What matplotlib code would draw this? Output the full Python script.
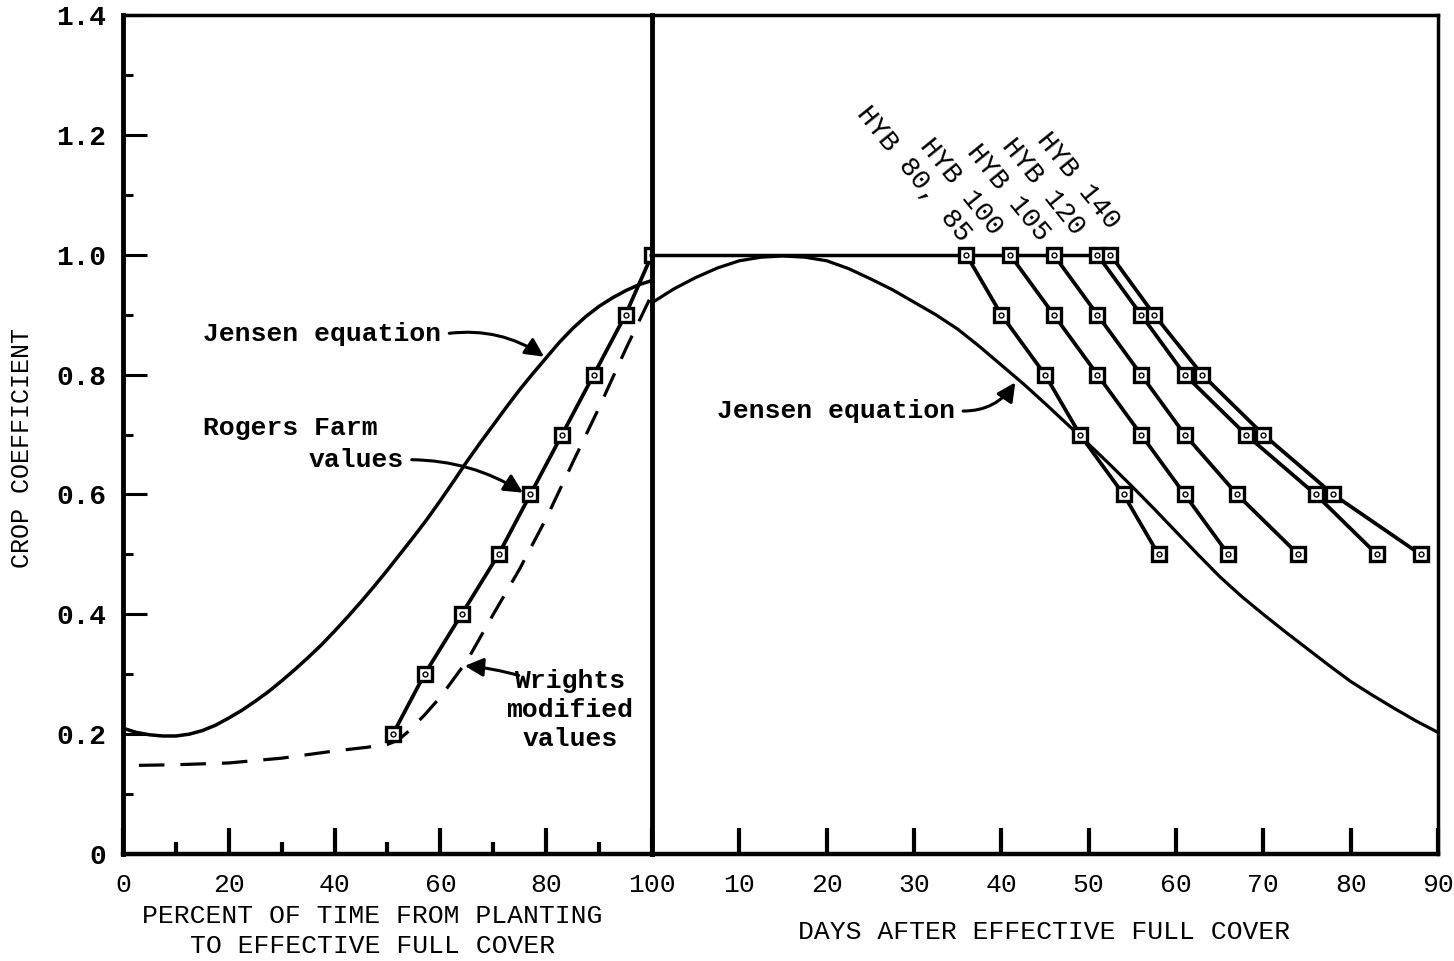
import matplotlib
matplotlib.use("Agg")
import matplotlib.pyplot as plt
import numpy as np

plt.rcParams["font.family"] = ["Liberation Mono", "DejaVu Sans Mono"]
plt.rcParams["font.weight"] = "bold"

# left panel: percent of time from planting to effective full cover
jensen_l_x = [0, 2.5, 5, 7.5, 10, 12.5, 15, 17.5, 20, 22.5, 25, 27.5, 30, 32.5, 35, 37.5,
              40, 42.5, 45, 47.5, 50, 52.5, 55, 57.5, 60, 62.5, 65, 67.5, 70, 72.5, 75,
              77.5, 80, 82.5, 85, 87.5, 90, 92.5, 95, 97.5, 100]
jensen_l_y = [0.21, 0.203, 0.199, 0.197, 0.197, 0.2, 0.206, 0.215, 0.227, 0.24, 0.255,
              0.271, 0.289, 0.308, 0.328, 0.349, 0.372, 0.396, 0.421, 0.447, 0.474, 0.502,
              0.53, 0.559, 0.59, 0.622, 0.655, 0.686, 0.716, 0.746, 0.775, 0.802, 0.828,
              0.854, 0.877, 0.897, 0.914, 0.928, 0.94, 0.95, 0.957]

rogers_x = [51, 57, 64, 71, 77, 83, 89, 95, 100]
rogers_y = [0.2, 0.3, 0.4, 0.5, 0.6, 0.7, 0.8, 0.9, 1.0]

wrights_x = [3, 10, 20, 30, 40, 46, 50, 52, 54, 57, 60, 65, 70, 75, 80, 85, 90, 95, 99.5]
wrights_y = [0.148, 0.149, 0.152, 0.16, 0.172, 0.178, 0.183, 0.19, 0.205, 0.232, 0.262,
             0.322, 0.40, 0.476, 0.56, 0.653, 0.745, 0.842, 0.925]

# right panel: days after effective full cover
jensen_r_x = [0, 2.5, 5, 7.5, 10, 12.5, 15, 17.5, 20, 22.5, 25, 27.5, 30, 32.5, 35, 37.5,
              40, 42.5, 45, 47.5, 50, 52.5, 55, 57.5, 60, 62.5, 65, 67.5, 70, 72.5, 75,
              77.5, 80, 82.5, 85, 87.5, 90]
jensen_r_y = [0.92, 0.943, 0.962, 0.978, 0.99, 0.996, 0.998, 0.996, 0.99, 0.977, 0.96,
              0.942, 0.921, 0.9, 0.876, 0.847, 0.816, 0.785, 0.752, 0.718, 0.684, 0.649,
              0.613, 0.576, 0.538, 0.5, 0.463, 0.43, 0.40, 0.371, 0.343, 0.315, 0.288,
              0.265, 0.243, 0.222, 0.203]

hyb_labels = ["HYB 80, 85", "HYB 100", "HYB 105", "HYB 120", "HYB 140"]
hyb_kc = [1.0, 0.9, 0.8, 0.7, 0.6, 0.5]
hyb_days = [
    [36, 40, 45, 49, 54, 58],
    [41, 46, 51, 56, 61, 66],
    [46, 51, 56, 61, 67, 74],
    [51, 56, 61, 68, 76, 83],
    [52.5, 57.5, 63, 70, 78, 88],
]
full_cover_end = 52.5

# label anchor points (text end) for the rotated hybrid labels
hyb_lab_x = [35.3, 39.0, 44.3, 48.3, 52.3]
hyb_lab_y = [1.02, 1.03, 1.02, 1.03, 1.04]

FS = 19
mk = dict(marker="s", markersize=10, markerfacecolor="white",
          markeredgecolor="black", markeredgewidth=2.4)
dot = dict(marker="o", markersize=3.5, markerfacecolor="white",
           markeredgecolor="black", markeredgewidth=1.0, linestyle="none")

fig = plt.figure(figsize=(14.54, 9.61), dpi=100)
axl = fig.add_axes([0.0846, 0.1113, 0.3638, 0.873])
axr = fig.add_axes([0.4484, 0.1113, 0.5406, 0.873])

for ax in (axl, axr):
    ax.set_ylim(0, 1.4)
    for s in ax.spines.values():
        s.set_linewidth(2.5)

axl.set_xlim(0, 100)
axr.set_xlim(0, 90)

# left panel curves
axl.plot(jensen_l_x, jensen_l_y, color="black", lw=2.5)
axl.plot(wrights_x, wrights_y, color="black", lw=2.3, dashes=(8, 5))
axl.plot(rogers_x, rogers_y, color="black", lw=2.7, **mk)
axl.plot(rogers_x, rogers_y, **dot)

# right panel curves
axr.plot(jensen_r_x, jensen_r_y, color="black", lw=2.3)
axr.plot([0, full_cover_end], [1.0, 1.0], color="black", lw=2.5)
for days in hyb_days:
    axr.plot(days, hyb_kc, color="black", lw=2.7, **mk)
    axr.plot(days, hyb_kc, **dot)
for lab, lx, ly in zip(hyb_labels, hyb_lab_x, hyb_lab_y):
    axr.text(lx, ly, lab, rotation=-51, rotation_mode="anchor",
             ha="right", va="baseline", fontsize=20, fontweight="normal")

# annotations
arrow = dict(arrowstyle="-|>", color="black", lw=2.2, mutation_scale=28)
axl.annotate("Jensen equation", xy=(79.6, 0.83), xytext=(15.1, 0.867),
             fontsize=FS, va="center", ha="left",
             arrowprops=dict(arrow, connectionstyle="arc3,rad=-0.2",
                             relpos=(1, 0.5), shrinkA=4, shrinkB=0))
axl.text(15.1, 0.711, "Rogers Farm", fontsize=FS, va="center", ha="left")
axl.annotate("values", xy=(75.6, 0.603), xytext=(35.0, 0.658),
             fontsize=FS, va="center", ha="left",
             arrowprops=dict(arrow, connectionstyle="arc3,rad=-0.15",
                             relpos=(1, 0.5), shrinkA=4, shrinkB=0))
axl.text(84.5, 0.24, "Wrights\nmodified\nvalues", fontsize=FS, va="center",
         ha="center", linespacing=1.25)
axl.annotate("", xy=(64.6, 0.314), xytext=(74.8, 0.298),
             arrowprops=dict(arrow, connectionstyle="arc3,rad=0.05",
                             shrinkA=0, shrinkB=0))
axr.annotate("Jensen equation", xy=(41.6, 0.787), xytext=(7.4, 0.74),
             fontsize=FS, va="center", ha="left",
             arrowprops=dict(arrow, connectionstyle="arc3,rad=0.3",
                             relpos=(1, 0.5), shrinkA=4, shrinkB=0))

# ticks
axl.set_xticks([0, 20, 40, 60, 80, 100])
axl.set_xticks([10, 30, 50, 70, 90], minor=True)
axl.set_yticks(np.arange(0, 1.41, 0.2))
axl.set_yticklabels(["0", "0.2", "0.4", "0.6", "0.8", "1.0", "1.2", "1.4"])
axl.set_yticks(np.arange(0.1, 1.4, 0.2), minor=True)
axl.tick_params(axis="x", which="major", direction="in", length=19, width=3,
                pad=14, labelsize=FS)
axl.tick_params(axis="x", which="minor", direction="in", length=9, width=3)
axl.tick_params(axis="y", which="major", direction="in", length=17, width=2.2,
                pad=12, labelsize=20)
axl.tick_params(axis="y", which="minor", direction="in", length=7, width=2.2)
for t in axl.get_xticklabels():
    t.set_fontweight("normal")
axl.spines["right"].set_visible(False)
axl.spines["left"].set_linewidth(3.5)
axl.spines["bottom"].set_linewidth(3.2)

axr.set_xticks([10, 20, 30, 40, 50, 60, 70, 80, 90])
axr.tick_params(axis="x", direction="in", length=19, width=3, pad=14, labelsize=FS)
axr.tick_params(axis="y", left=False, labelleft=False)
for t in axr.get_xticklabels():
    t.set_fontweight("normal")
axr.spines["left"].set_linewidth(3.5)
axr.spines["bottom"].set_linewidth(3.2)

# axis titles
fig.text(0.015, 0.534, "CROP COEFFICIENT", rotation=90, ha="center", va="center",
         fontsize=18, fontweight="normal")
fig.text(0.256, 0.047, "PERCENT OF TIME FROM PLANTING", ha="center", va="center",
         fontsize=FS, fontweight="normal")
fig.text(0.256, 0.016, "TO EFFECTIVE FULL COVER", ha="center", va="center",
         fontsize=FS, fontweight="normal")
fig.text(0.718, 0.030, "DAYS AFTER EFFECTIVE FULL COVER", ha="center", va="center",
         fontsize=FS, fontweight="normal")

fig.savefig("out.png", dpi=100)
